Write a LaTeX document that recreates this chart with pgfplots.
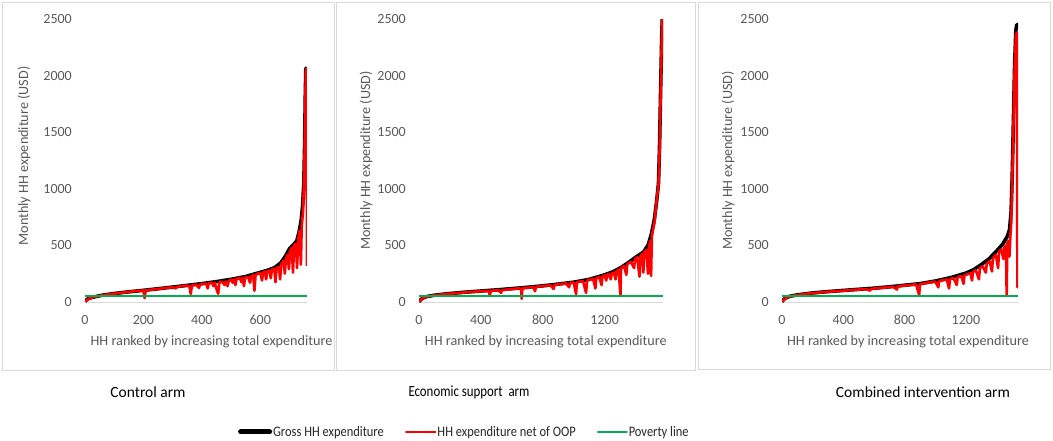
\documentclass[border=0pt]{standalone}
\usepackage{pgfplots}
\pgfplotsset{compat=1.18}
\usepackage{fontspec}
\setmainfont{Carlito}
\newfontfamily\narrowfont[FakeStretch=0.86]{Carlito}
\newfontfamily\econfont[FakeStretch=0.83]{Carlito}
\definecolor{tickgray}{HTML}{595959}
\definecolor{framegray}{HTML}{D9D9D9}
\definecolor{povgreen}{HTML}{00B050}
\definecolor{legtext}{HTML}{262626}
\pgfplotsset{
  panel/.style={
    scale only axis, anchor=south west, height=283pt,
    ymin=0, ymax=2500, ytick={0,500,...,2500},
    axis x line=bottom, axis y line=left,
    axis line style={-},
    y axis line style={draw=none},
    x axis line style={draw=framegray, line width=0.9pt},
    tick style={draw=none}, major tick length=0pt,
    scaled ticks=false,
    /pgf/number format/.cd, 1000 sep={}, assume math mode=true, /pgfplots/.cd,
    ticklabel style={font=\fontsize{14}{16}\selectfont, text=tickgray},
    yticklabel style={anchor=east, inner sep=0pt, xshift=-13pt},
    xticklabel style={anchor=north, inner sep=0pt, yshift=-13pt},
    label style={font=\fontsize{14.2}{16}\selectfont, text=tickgray},
    xlabel={HH ranked by increasing total expenditure},
    ylabel={Monthly HH expenditure (USD)},
    clip=true,
  },
  gross/.style={black, line width=3.6pt, line join=round, no marks},
  net/.style={red, line width=2.6pt, line join=round, no marks},
  pov/.style={povgreen, line width=2pt, no marks},
}
\begin{document}
\begin{tikzpicture}[x=1pt,y=1pt]
\useasboundingbox (0,0) rectangle (1053,440);
\draw[framegray, line width=0.9pt] (2,70) rectangle (334,438);
\draw[framegray, line width=0.9pt] (336,70) rectangle (695,438);
\draw[framegray, line width=0.9pt] (698,71) rectangle (1050,438);

% ---------- Control arm ----------
\begin{axis}[panel, at={(85pt,138pt)}, width=222pt,
  xmin=0, xmax=760, xtick={0,200,400,600},
  xlabel style={at={(axis description cs:0.570,-0.1413)}, anchor=center},
  ylabel style={at={(axis description cs:-0.2748,0.516)}, anchor=center}]
\addplot[gross] table {
0 5
5 18
10 28
20 38
40 50
60 60
80 68
100 75
150 90
200 103
250 117
300 132
350 147
400 162
450 180
500 200
550 225
600 262
625 280
650 305
670 345
685 400
700 470
715 510
725 540
733 620
740 720
745 850
749 1050
752 1400
754 1800
756 2060
760 2070
};
\addplot[net] table {
0 3
10 26
20 37
30 44
40 49
50 55
60 59
70 64
80 67
90 71
100 74
120 80
140 86
160 93
180 98
200 102
204 35
208 102
225 108
250 116
275 123
300 131
310 120
314 132
330 139
350 146
358 135
362 70
366 148
380 153
390 125
394 155
405 160
415 163
420 120
424 165
435 170
440 140
444 172
452 100
456 72
460 175
470 178
478 150
482 181
488 140
492 184
500 198
506 170
510 200
515 150
519 204
530 212
536 175
540 214
544 140
548 216
558 222
565 170
569 228
576 236
580 100
584 240
592 250
600 258
606 190
610 264
616 268
620 200
624 272
632 278
636 210
640 288
648 295
652 175
656 300
664 312
668 200
672 335
680 365
684 250
688 385
694 420
698 290
702 450
708 480
712 260
716 500
722 515
726 300
730 560
735 630
739 330
742 680
746 780
749 1000
752 1350
754 1750
756 2040
758 2060
760 320
};
\addplot[pov] table {
0 57
760 57
};
\end{axis}

% ---------- Economic support arm ----------
\begin{axis}[panel, at={(419pt,138pt)}, width=244pt,
  xmin=0, xmax=1577, xtick={0,400,800,1200},
  xlabel style={at={(axis description cs:0.520,-0.1413)}, anchor=center},
  ylabel style={at={(axis description cs:-0.217,0.5)}, anchor=center},
  legend columns=3,
  legend style={at={(axis description cs:0.184,-0.459)}, anchor=center,
    draw=none, fill=none, font=\narrowfont\fontsize{14.5}{16}\selectfont,
    text=legtext, nodes={inner xsep=1pt},
    /tikz/every even column/.append style={column sep=20pt}},
  legend image code/.code={\draw[#1, line cap=round] (0pt,0pt) -- (29pt,0pt);}]
\addplot[gross, forget plot] table {
0 2
10 20
25 35
50 48
100 60
200 75
300 87
400 97
500 107
600 118
700 130
800 143
900 158
1000 175
1100 200
1200 240
1250 265
1300 300
1350 345
1400 395
1450 440
1480 500
1500 590
1520 720
1535 880
1548 1050
1555 1400
1562 1900
1568 2300
1572 2500
1577 2500
};
\addlegendimage{black, line width=5pt}
\addlegendentry{Gross HH expenditure}
\addplot[net] table {
0 0
15 23
30 37
50 46
75 54
100 59
125 63
150 67
175 70
200 73
225 76
250 79
275 82
300 85
325 88
350 90
375 93
400 95
425 97
450 99
458 60
465 100
490 102
515 104
530 80
537 106
560 108
580 111
600 115
625 118
650 121
660 110
664 28
668 122
690 125
715 128
740 131
750 95
756 134
780 138
800 140
825 144
850 148
870 115
876 152
900 155
925 160
950 165
970 130
976 170
1000 172
1015 70
1021 175
1040 180
1060 186
1080 80
1086 192
1100 196
1125 205
1140 120
1146 212
1165 220
1180 150
1186 228
1200 235
1210 190
1216 240
1225 246
1240 200
1246 255
1260 260
1270 200
1276 272
1290 285
1302 60
1306 300
1325 318
1340 240
1346 335
1370 355
1390 300
1396 380
1410 395
1425 225
1432 410
1445 425
1450 260
1456 440
1470 460
1480 250
1486 490
1495 540
1500 230
1505 580
1515 660
1522 700
1530 820
1540 950
1548 1030
1555 1350
1562 1850
1568 2250
1572 2500
1577 2500
};
\addlegendentry{HH expenditure net of OOP}
\addplot[pov] table {
0 55
1577 55
};
\addlegendentry{Poverty line}
\end{axis}

% ---------- Combined intervention arm ----------
\begin{axis}[panel, at={(782pt,138pt)}, width=236pt,
  xmin=0, xmax=1540, xtick={0,400,800,1200},
  xlabel style={at={(axis description cs:0.534,-0.1413)}, anchor=center},
  ylabel style={at={(axis description cs:-0.229,0.5)}, anchor=center}]
\addplot[gross] table {
0 3
10 22
25 36
50 50
100 63
200 80
300 92
400 102
500 112
600 122
700 134
800 148
900 162
1000 185
1100 215
1200 255
1250 285
1300 330
1350 380
1400 450
1440 510
1470 580
1485 640
1495 800
1502 1100
1510 1600
1518 2100
1526 2400
1532 2450
1540 2450
};
\addplot[net] table {
0 0
15 25
30 38
50 48
75 56
100 61
125 66
150 71
175 75
200 78
225 81
250 84
275 87
300 90
325 93
350 95
375 97
400 100
425 102
450 105
475 107
500 110
525 112
550 114
575 100
580 116
600 119
625 122
650 125
675 128
700 131
725 135
750 110
756 139
780 142
800 145
825 149
850 152
875 156
895 60
900 158
925 164
950 170
975 175
1000 181
1020 130
1026 186
1050 192
1075 200
1090 120
1096 204
1120 210
1140 150
1146 220
1170 228
1185 160
1191 236
1210 245
1230 255
1240 190
1246 265
1265 280
1285 200
1291 300
1310 315
1330 260
1336 340
1355 360
1370 270
1376 385
1395 415
1410 300
1416 440
1430 465
1445 380
1450 480
1462 500
1466 55
1470 520
1478 540
1484 400
1490 580
1496 700
1502 1050
1510 1550
1518 2050
1526 2350
1532 2380
1536 130
1540 400
};
\addplot[pov] table {
0 57
1540 57
};
\end{axis}

\node[font=\fontsize{15.5}{18}\selectfont, text=black] at (148,48) {Control arm};
\node[font=\econfont\fontsize{15.5}{18}\selectfont, text=black] at (469,48) {Economic support\ \ arm};
\node[font=\fontsize{15.5}{18}\selectfont, text=black] at (923,48) {Combined intervention arm};
\end{tikzpicture}
\end{document}
